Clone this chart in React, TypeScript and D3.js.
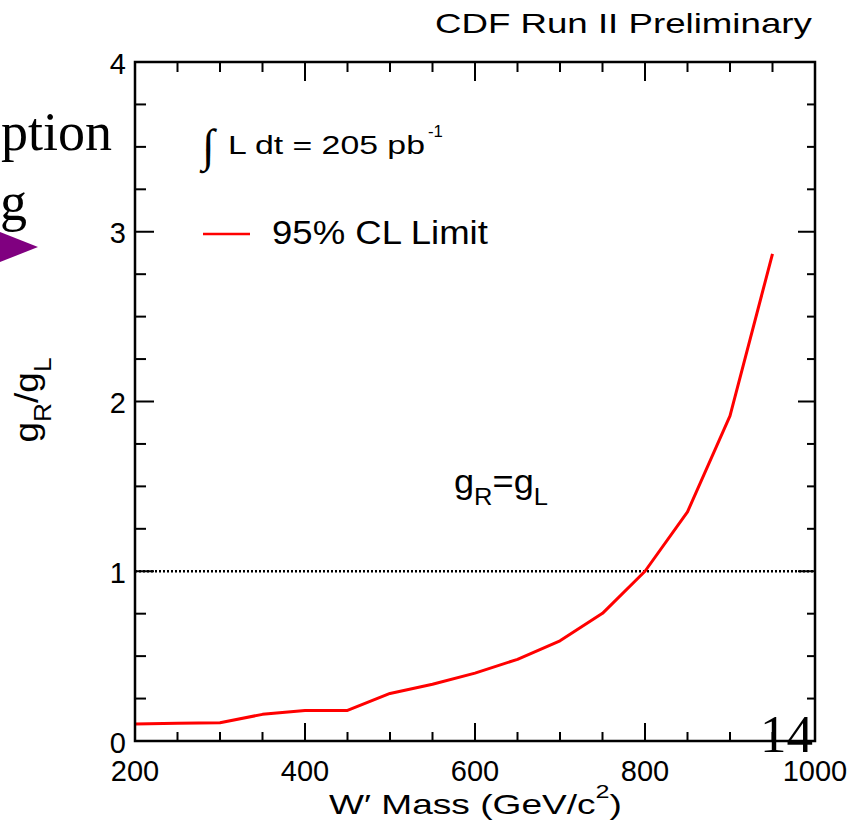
import React, { useLayoutEffect, useRef, useState } from "react";
import * as d3 from "d3";

const masses = [200, 250, 300, 350, 400, 450, 500, 550, 600, 650, 700, 750, 800, 850, 900, 950];
const limits = [0.10, 0.104, 0.108, 0.157, 0.18, 0.18, 0.28, 0.334, 0.40, 0.481, 0.59, 0.752, 1.0, 1.35, 1.915, 2.87];
const xMajorTicks = [200, 400, 600, 800, 1000];
const yMajorTicks = [0, 1, 2, 3, 4];
const xDomain = [200, 1000];
const yDomain = [0, 4];
const refLevel = 1;

const W = 854;
const H = 830;
const L = 135, R = 815, T = 62, B = 741;
const SANS = "'Liberation Sans', Arial, Helvetica, sans-serif";
const SERIF = "'Liberation Serif', 'Times New Roman', serif";

function Fit({ x0, x1, children }: { x0: number; x1: number; children: React.ReactNode }) {
  const ref = useRef<SVGGElement>(null);
  const [tf, setTf] = useState("");
  useLayoutEffect(() => {
    const g = ref.current;
    if (!g) return;
    const bb = g.getBBox();
    if (bb.width > 0) {
      const s = (x1 - x0) / bb.width;
      setTf(`translate(${x0},0) scale(${s},1) translate(${-bb.x},0)`);
    }
  }, [x0, x1]);
  return (
    <g transform={tf}>
      <g ref={ref}>{children}</g>
    </g>
  );
}

export default function App() {
  const x = d3.scaleLinear().domain(xDomain).range([L, R]);
  const y = d3.scaleLinear().domain(yDomain).range([B, T]);
  const line = d3
    .line<number>()
    .x((_, i) => x(masses[i]))
    .y((d) => y(d));

  const xMinor = d3.range(xDomain[0], xDomain[1] + 1, 50).filter((v) => !xMajorTicks.includes(v));
  const yMinor = d3.range(yDomain[0], yDomain[1] + 0.001, 0.25).filter((v) => !yMajorTicks.includes(v));

  const tick = "#000";
  const tw = 2;

  return (
    <svg
      width={W}
      height={H}
      style={{ position: "absolute", left: 0, top: 0, background: "#fff" }}
    >
      <rect x={0} y={0} width={W} height={H} fill="#fff" />

      {/* slide fragments */}
      <text x={112} y={150} fontFamily={SERIF} fontSize={54} textAnchor="end" fill="#000">ption</text>
      <text x={27} y={220} fontFamily={SERIF} fontSize={54} textAnchor="end" fill="#000">g</text>
      <polygon points="-10,228 38,247 -10,266" fill="#800080" />

      {/* title */}
      <Fit x0={435} x1={812}>
        <text x={0} y={33} fontFamily={SANS} fontSize={28} fill="#000">CDF Run II Preliminary</text>
      </Fit>

      {/* dotted reference line */}
      <line x1={L} x2={R} y1={y(refLevel)} y2={y(refLevel)} stroke="#000" strokeWidth={2.5} strokeDasharray="2,2" />

      {/* data */}
      <path d={line(limits) || ""} fill="none" stroke="#ff0000" strokeWidth={3} strokeLinejoin="round" />

      {/* frame */}
      <rect x={L} y={T} width={R - L} height={B - T} fill="none" stroke="#000" strokeWidth={2.5} />

      {/* x ticks */}
      {xMajorTicks.map((v) => (
        <g key={"xM" + v}>
          <line x1={x(v)} x2={x(v)} y1={B} y2={B - 18} stroke={tick} strokeWidth={tw} />
          <line x1={x(v)} x2={x(v)} y1={T} y2={T + 19} stroke={tick} strokeWidth={tw} />
          <text x={x(v)} y={781} fontFamily={SANS} fontSize={29} textAnchor="middle" fill="#000">{v}</text>
        </g>
      ))}
      {xMinor.map((v) => (
        <g key={"xm" + v}>
          <line x1={x(v)} x2={x(v)} y1={B} y2={B - 9} stroke={tick} strokeWidth={tw} />
          <line x1={x(v)} x2={x(v)} y1={T} y2={T + 10} stroke={tick} strokeWidth={tw} />
        </g>
      ))}

      {/* y ticks */}
      {yMajorTicks.map((v) => (
        <g key={"yM" + v}>
          <line x1={L} x2={L + 19} y1={y(v)} y2={y(v)} stroke={tick} strokeWidth={tw} />
          <line x1={R} x2={R - 17} y1={y(v)} y2={y(v)} stroke={tick} strokeWidth={tw} />
          <text x={126} y={y(v) + 11.5} fontFamily={SANS} fontSize={29} textAnchor="end" fill="#000">{v}</text>
        </g>
      ))}
      {yMinor.map((v) => (
        <g key={"ym" + v}>
          <line x1={L} x2={L + 11} y1={y(v)} y2={y(v)} stroke={tick} strokeWidth={tw} />
          <line x1={R} x2={R - 8} y1={y(v)} y2={y(v)} stroke={tick} strokeWidth={tw} />
        </g>
      ))}

      {/* x axis label */}
      <Fit x0={329} x1={622}>
        <text x={0} y={814} fontFamily={SANS} fontSize={28} fill="#000">
          W′ Mass (GeV/c
          <tspan dy={-16} fontSize={19}>2</tspan>
          <tspan dy={16} fontSize={28}>)</tspan>
        </text>
      </Fit>

      {/* y axis label */}
      <g transform="translate(38,400) rotate(-90)">
        <Fit x0={-42.5} x1={42.5}>
          <text x={0} y={0} fontFamily={SANS} fontSize={34} fill="#000">
            g<tspan dy={13} fontSize={24}>R</tspan>
            <tspan dy={-13} fontSize={34}>/g</tspan>
            <tspan dy={13} fontSize={24}>L</tspan>
          </text>
        </Fit>
      </g>

      {/* luminosity */}
      <text x={202} y={161} fontFamily={SERIF} fontSize={46} fill="#000">∫</text>
      <Fit x0={228} x1={425}>
        <text x={0} y={154} fontFamily={SANS} fontSize={25} fill="#000">L dt = 205 pb</text>
      </Fit>
      <Fit x0={428} x1={443}>
        <text x={0} y={137} fontFamily={SANS} fontSize={16} fill="#000">-1</text>
      </Fit>

      {/* legend */}
      <line x1={203} x2={250} y1={234} y2={234} stroke="#ff0000" strokeWidth={2.5} />
      <Fit x0={272} x1={488}>
        <text x={0} y={244} fontFamily={SANS} fontSize={33} fill="#000">95% CL Limit</text>
      </Fit>

      {/* annotation */}
      <Fit x0={454} x1={548}>
        <text x={0} y={493} fontFamily={SANS} fontSize={34} fill="#000">
          g<tspan dy={12} fontSize={24}>R</tspan>
          <tspan dy={-12} fontSize={34}>=g</tspan>
          <tspan dy={12} fontSize={24}>L</tspan>
        </text>
      </Fit>

      {/* slide page number */}
      <text x={813} y={752} fontFamily={SERIF} fontSize={53} textAnchor="end" fill="#000">14</text>
    </svg>
  );
}
